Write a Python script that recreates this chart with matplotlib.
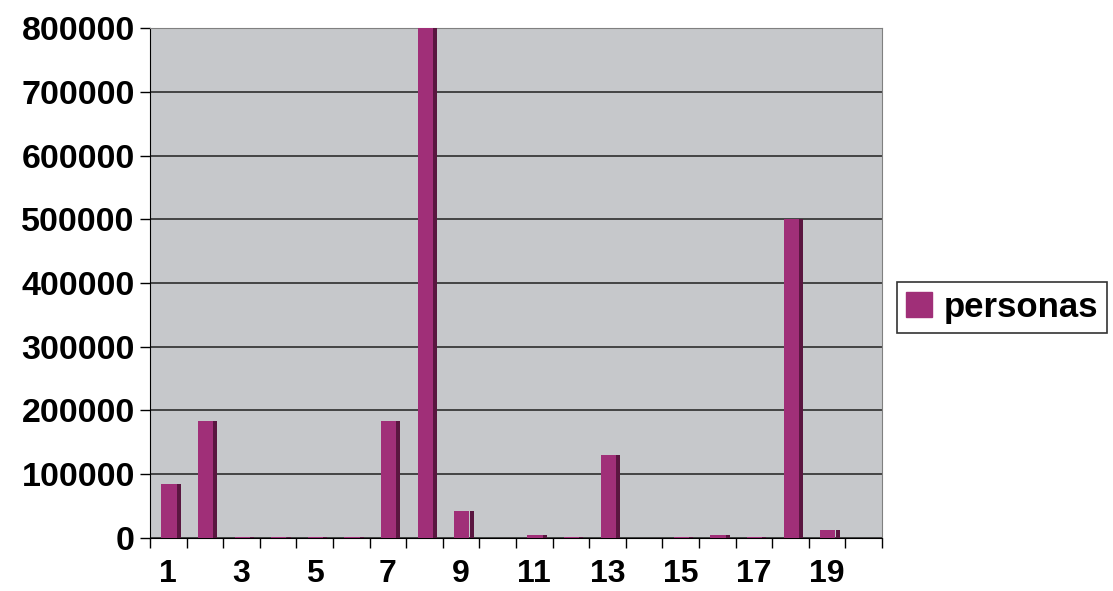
import matplotlib.pyplot as plt
from matplotlib.patches import Patch

# categories and values
categorias = list(range(1, 21))
personas = [85000, 183000, 2000, 2000, 1000, 2000, 183000, 800000, 42000, 500,
            4000, 2000, 130000, 500, 1500, 5000, 2000, 500000, 13000, 500]
etiquetas_x = ['1', '3', '5', '7', '9', '11', '13', '15', '17', '19']
valores_y = [0, 100000, 200000, 300000, 400000, 500000, 600000, 700000, 800000]

plt.rcParams['font.family'] = ['Liberation Sans', 'DejaVu Sans']

fig = plt.figure(figsize=(11.13, 5.91), dpi=100)
ax = fig.add_axes([0.1348, 0.0897, 0.6577, 0.8629])
ax.set_facecolor('#c6c8cb')

front = '#a02f78'
side = '#5a1640'

# front face and darker side face of the pseudo 3D columns
ax.bar([c + 0.02 for c in categorias], personas, width=0.415, color=front,
       linewidth=0, zorder=3)
ax.bar([c + 0.285 for c in categorias], personas, width=0.11, color=side,
       linewidth=0, zorder=3)

ax.set_xlim(0.5, 20.5)
ax.set_ylim(0, 800000)

ax.set_yticks(valores_y)
ax.set_yticklabels([str(v) for v in valores_y], fontsize=24.5, fontweight='bold')
ax.yaxis.grid(True, color='#202020', linewidth=1.1, zorder=1)

ax.set_xticks([c + 0.5 for c in [0] + categorias])
ax.set_xticklabels([])
ax.set_xticks([int(e) for e in etiquetas_x], minor=True)
ax.set_xticklabels(etiquetas_x, minor=True, fontsize=23, fontweight='bold')
ax.tick_params(axis='x', which='minor', length=0, pad=15)
ax.tick_params(axis='x', which='major', length=7, width=1)
ax.tick_params(axis='y', length=7, width=1, pad=4)

for s in ['top', 'right']:
    ax.spines[s].set_color('#808080')
ax.spines['left'].set_color('black')
ax.spines['bottom'].set_color('black')

leg = fig.legend(handles=[Patch(facecolor=front, edgecolor=front, label='personas')],
                 loc='center left', bbox_to_anchor=(0.803, 0.48),
                 prop={'size': 25, 'weight': 'bold'}, frameon=True, fancybox=False,
                 handlelength=0.75, handleheight=0.75, handletextpad=0.35,
                 borderpad=0.25, borderaxespad=0.1)
leg.get_frame().set_edgecolor('black')
leg.get_frame().set_linewidth(1.2)

fig.savefig('out.png', dpi=100, facecolor='white')
